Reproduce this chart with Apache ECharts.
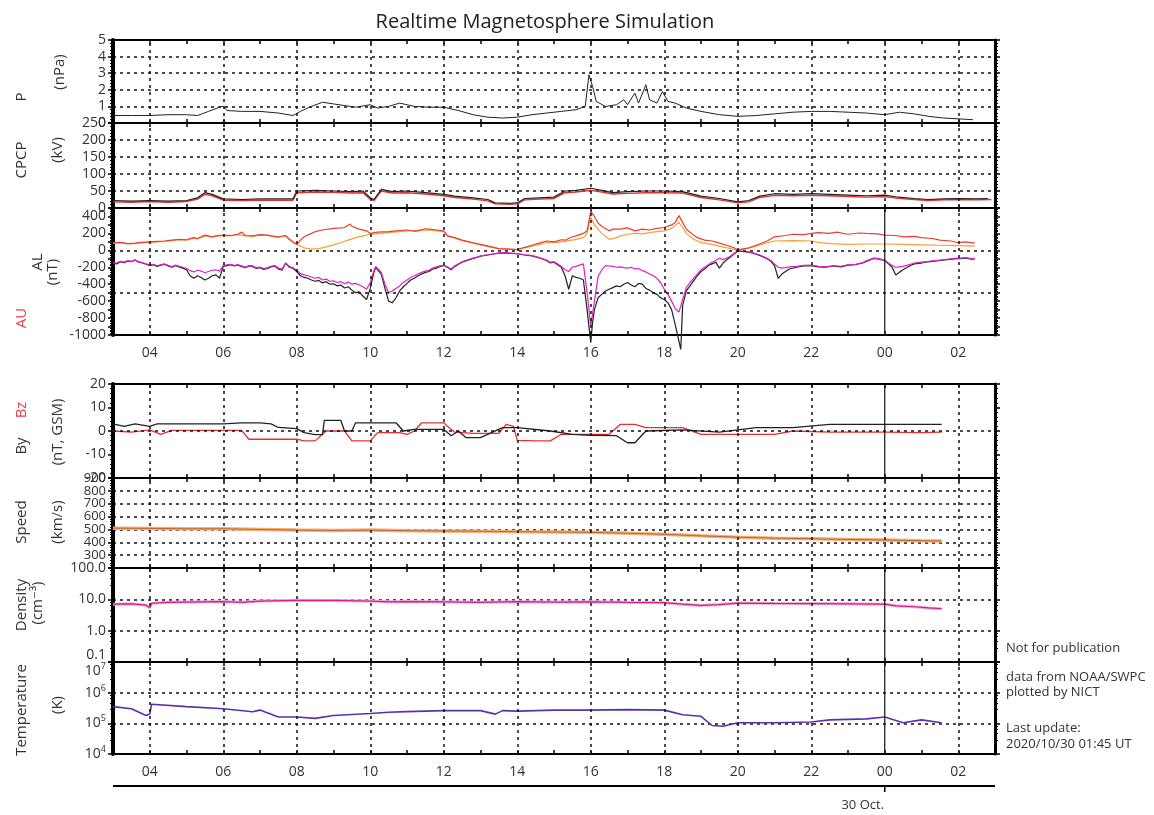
<!DOCTYPE html>
<html><head><meta charset="utf-8">
<script src="https://cdn.jsdelivr.net/npm/echarts@6.0.0/dist/echarts.min.js"></script>
<style>html,body{margin:0;padding:0;background:#fff}#c{width:1154px;height:815px}</style>
</head><body><div id="c"></div><script>
// ---------- DATA (hours since 00 UT Oct 29; 24 = 00 UT Oct 30) ----------
const GRID_HOURS = [4,6,8,10,12,14,16,18,20,22,24,26];
const DAY_HOUR = 24;

const P_DATA = [[3.0,0.45],[3.5,0.45],[4.0,0.45],[4.5,0.5],[5.0,0.5],[5.3,0.45],[5.6,0.7],[5.9,0.95],[6.0,1.0],[6.1,0.75],[6.5,0.7],[7.0,0.7],[7.5,0.6],[7.9,0.45],[8.1,0.7],[8.4,1.0],[8.7,1.25],[9.0,1.15],[9.3,1.05],[9.6,0.95],[10.0,1.1],[10.2,0.9],[10.5,1.0],[10.8,1.2],[11.2,1.0],[11.6,0.95],[12.0,0.95],[12.4,0.75],[12.8,0.5],[13.2,0.35],[13.6,0.3],[14.0,0.35],[14.4,0.5],[14.8,0.6],[15.2,0.7],[15.6,0.8],[15.85,1.0],[15.95,2.9],[16.05,2.2],[16.15,1.3],[16.4,1.0],[16.7,1.1],[16.9,1.4],[17.0,1.1],[17.2,1.8],[17.3,1.2],[17.5,2.3],[17.6,1.4],[17.8,1.2],[17.95,1.9],[18.1,1.3],[18.3,1.2],[18.6,0.9],[19.0,0.7],[19.5,0.5],[20.0,0.4],[20.5,0.45],[21.0,0.55],[21.5,0.65],[22.0,0.7],[22.5,0.7],[23.0,0.65],[23.5,0.6],[24.0,0.5],[24.4,0.65],[24.8,0.55],[25.2,0.4],[25.6,0.3],[26.0,0.25],[26.4,0.2]];

const CPCP_BLACK = [[3.0,22],[3.5,20],[4.0,22],[4.5,20],[5.0,22],[5.3,30],[5.5,45],[5.7,40],[6.0,27],[6.5,25],[7.0,27],[7.5,27],[7.9,27],[8.0,50],[8.5,52],[9.0,50],[9.5,48],[9.8,50],[10.0,30],[10.1,25],[10.3,55],[10.6,48],[11.0,50],[11.5,45],[12.0,40],[12.3,35],[12.8,30],[13.2,25],[13.4,15],[13.8,14],[14.0,15],[14.2,28],[14.6,30],[15.0,32],[15.3,50],[15.6,52],[16.0,58],[16.3,52],[16.6,45],[17.0,48],[17.5,50],[18.0,50],[18.5,48],[19.0,35],[19.5,28],[20.0,18],[20.3,22],[20.6,35],[21.0,42],[21.5,40],[22.0,42],[22.5,40],[23.0,38],[23.5,36],[24.0,38],[24.3,33],[24.8,28],[25.2,25],[25.6,27],[26.0,28],[26.5,27],[26.8,28]];
const CPCP_RED = [[3.0,18],[3.5,17],[4.0,19],[4.5,17],[5.0,19],[5.3,26],[5.5,40],[5.7,36],[6.0,23],[6.5,22],[7.0,23],[7.5,23],[7.9,23],[8.0,45],[8.5,47],[9.0,46],[9.5,44],[9.8,45],[10.0,26],[10.1,22],[10.3,50],[10.6,44],[11.0,45],[11.5,41],[12.0,36],[12.3,31],[12.8,26],[13.2,21],[13.4,12],[13.8,11],[14.0,12],[14.2,24],[14.6,26],[15.0,28],[15.3,45],[15.6,47],[16.0,52],[16.3,47],[16.6,41],[17.0,43],[17.5,45],[18.0,45],[18.5,44],[19.0,31],[19.5,24],[20.0,15],[20.3,18],[20.6,31],[21.0,37],[21.5,36],[22.0,37],[22.5,36],[23.0,34],[23.5,32],[24.0,34],[24.3,29],[24.8,25],[25.2,22],[25.6,24],[26.0,25],[26.5,24],[26.9,25]];

const AU_RED = [[3.0,90],[3.2,95],[3.4,80],[3.6,85],[3.8,95],[4.0,100],[4.2,105],[4.4,110],[4.6,120],[4.8,130],[5.0,125],[5.2,150],[5.3,140],[5.5,180],[5.7,160],[5.8,170],[6.0,180],[6.2,175],[6.4,190],[6.5,215],[6.6,175],[6.8,170],[7.0,185],[7.2,180],[7.4,165],[7.5,160],[7.7,175],[7.8,130],[8.0,70],[8.1,120],[8.2,160],[8.4,200],[8.5,220],[8.7,240],[9.0,260],[9.2,265],[9.3,270],[9.45,310],[9.5,285],[9.7,250],[9.9,230],[10.0,200],[10.2,215],[10.5,220],[10.7,230],[11.0,240],[11.2,225],[11.3,230],[11.5,255],[11.6,250],[11.8,240],[12.0,230],[12.1,170],[12.3,150],[12.5,120],[12.8,90],[13.0,70],[13.3,40],[13.5,20],[13.8,15],[14.0,10],[14.2,35],[14.4,60],[14.6,85],[14.8,110],[15.0,100],[15.2,125],[15.3,120],[15.5,160],[15.6,170],[15.8,200],[15.9,230],[16.0,460],[16.1,400],[16.2,320],[16.35,270],[16.5,230],[16.6,250],[16.8,250],[17.0,265],[17.2,230],[17.4,250],[17.6,240],[17.8,260],[18.0,270],[18.2,300],[18.3,330],[18.4,410],[18.5,330],[18.6,250],[18.8,180],[18.9,150],[19.1,120],[19.3,110],[19.5,85],[19.7,60],[19.9,30],[20.0,5],[20.3,30],[20.5,60],[20.8,110],[21.0,160],[21.3,175],[21.5,190],[21.8,185],[22.0,200],[22.2,210],[22.5,200],[22.7,215],[23.0,190],[23.3,205],[23.5,200],[23.8,195],[24.0,180],[24.3,175],[24.5,160],[24.8,165],[25.0,150],[25.3,140],[25.5,120],[25.8,110],[26.0,90],[26.2,100],[26.45,85]];
const AU_ORANGE = [[3.0,85],[3.2,90],[3.4,75],[3.6,80],[3.8,90],[4.0,95],[4.2,100],[4.4,105],[4.6,115],[4.8,125],[5.0,120],[5.2,145],[5.3,135],[5.5,170],[5.7,155],[5.8,165],[6.0,175],[6.2,170],[6.4,185],[6.6,170],[6.8,165],[7.0,180],[7.2,175],[7.4,160],[7.5,155],[7.7,170],[7.8,125],[8.0,70],[8.2,30],[8.4,15],[8.6,20],[8.8,40],[9.0,65],[9.2,90],[9.4,120],[9.6,150],[9.8,170],[10.0,190],[10.3,200],[10.5,210],[10.8,220],[11.0,230],[11.3,235],[11.6,240],[11.8,230],[12.0,220],[12.1,170],[12.3,145],[12.5,115],[12.8,85],[13.0,65],[13.3,35],[13.5,18],[13.8,12],[14.0,8],[14.2,30],[14.4,50],[14.6,70],[14.8,90],[15.0,90],[15.3,105],[15.6,130],[15.8,150],[15.9,200],[16.0,390],[16.1,300],[16.3,200],[16.5,130],[16.7,150],[16.8,170],[17.0,190],[17.2,200],[17.4,195],[17.6,210],[17.8,220],[18.0,230],[18.2,260],[18.4,330],[18.5,270],[18.6,200],[18.8,130],[19.0,90],[19.3,70],[19.5,50],[19.8,20],[20.0,0],[20.3,25],[20.5,50],[20.8,90],[21.0,110],[21.5,115],[22.0,110],[22.2,95],[22.5,80],[23.0,70],[23.5,75],[24.0,75],[24.5,70],[25.0,65],[25.5,60],[26.0,55],[26.45,50]];

const AL_BLACK = [[3.0,-150],[3.1,-160],[3.2,-135],[3.3,-145],[3.4,-125],[3.5,-135],[3.6,-115],[3.7,-140],[3.8,-150],[3.9,-165],[4.0,-180],[4.1,-170],[4.2,-190],[4.3,-175],[4.4,-165],[4.5,-185],[4.6,-200],[4.7,-180],[4.8,-195],[4.9,-210],[5.0,-230],[5.1,-300],[5.2,-330],[5.3,-300],[5.4,-320],[5.5,-350],[5.6,-330],[5.7,-300],[5.8,-290],[5.9,-330],[6.0,-190],[6.1,-180],[6.2,-170],[6.3,-185],[6.4,-175],[6.5,-190],[6.6,-205],[6.7,-185],[6.8,-190],[6.9,-215],[7.0,-205],[7.1,-225],[7.2,-215],[7.3,-195],[7.4,-185],[7.5,-220],[7.6,-235],[7.7,-150],[7.8,-200],[7.9,-215],[8.0,-250],[8.1,-300],[8.2,-320],[8.3,-330],[8.4,-350],[8.5,-365],[8.6,-355],[8.7,-385],[8.8,-370],[8.9,-400],[9.0,-395],[9.1,-420],[9.2,-410],[9.3,-445],[9.4,-430],[9.5,-470],[9.6,-500],[9.7,-490],[9.8,-540],[9.9,-580],[10.0,-450],[10.1,-260],[10.15,-200],[10.2,-230],[10.3,-280],[10.4,-450],[10.5,-600],[10.6,-620],[10.7,-560],[10.8,-480],[10.9,-430],[11.0,-390],[11.1,-350],[11.2,-330],[11.3,-300],[11.4,-280],[11.5,-260],[11.6,-250],[11.7,-220],[11.8,-210],[11.9,-190],[12.0,-180],[12.1,-200],[12.2,-230],[12.3,-190],[12.4,-165],[12.5,-140],[12.6,-125],[12.7,-110],[12.8,-95],[12.9,-85],[13.0,-70],[13.2,-55],[13.4,-40],[13.6,-30],[13.8,-35],[14.0,-40],[14.2,-55],[14.4,-65],[14.6,-90],[14.8,-120],[14.9,-150],[15.0,-140],[15.1,-170],[15.2,-200],[15.3,-300],[15.4,-460],[15.5,-300],[15.6,-320],[15.7,-330],[15.8,-350],[15.9,-700],[16.0,-1090],[16.05,-850],[16.1,-700],[16.2,-560],[16.3,-520],[16.4,-480],[16.5,-460],[16.6,-440],[16.7,-420],[16.8,-430],[16.9,-400],[17.0,-380],[17.1,-410],[17.2,-430],[17.3,-390],[17.4,-400],[17.5,-450],[17.6,-470],[17.7,-500],[17.8,-520],[17.9,-560],[18.0,-580],[18.1,-620],[18.2,-700],[18.3,-880],[18.45,-1170],[18.5,-650],[18.6,-480],[18.7,-420],[18.8,-360],[18.9,-300],[19.0,-250],[19.1,-220],[19.2,-180],[19.3,-160],[19.4,-140],[19.5,-210],[19.6,-150],[19.7,-110],[19.8,-80],[19.9,-40],[20.0,-10],[20.2,-15],[20.4,-30],[20.6,-60],[20.8,-100],[20.9,-130],[21.0,-180],[21.1,-330],[21.2,-280],[21.3,-250],[21.4,-220],[21.6,-200],[21.8,-185],[22.0,-180],[22.2,-195],[22.4,-200],[22.6,-185],[22.8,-195],[23.0,-175],[23.2,-170],[23.4,-150],[23.5,-130],[23.7,-95],[23.8,-100],[24.0,-120],[24.1,-160],[24.2,-200],[24.3,-290],[24.4,-260],[24.5,-230],[24.7,-180],[24.8,-160],[25.0,-150],[25.1,-140],[25.3,-130],[25.5,-120],[25.7,-110],[25.9,-100],[26.1,-95],[26.2,-90],[26.35,-105],[26.45,-100]];
const AL_MAGENTA = [[3.0,-145],[3.1,-150],[3.2,-130],[3.3,-140],[3.4,-120],[3.5,-130],[3.6,-112],[3.7,-135],[3.8,-145],[3.9,-160],[4.0,-172],[4.1,-165],[4.2,-182],[4.3,-170],[4.4,-160],[4.5,-178],[4.6,-192],[4.7,-175],[4.8,-188],[4.9,-200],[5.0,-215],[5.1,-240],[5.2,-255],[5.3,-235],[5.4,-245],[5.5,-265],[5.6,-250],[5.7,-235],[5.8,-230],[5.9,-245],[6.0,-180],[6.1,-172],[6.2,-165],[6.3,-178],[6.4,-170],[6.5,-183],[6.6,-198],[6.7,-180],[6.8,-184],[6.9,-205],[7.0,-198],[7.1,-215],[7.2,-205],[7.3,-188],[7.4,-180],[7.5,-210],[7.6,-222],[7.7,-150],[7.8,-192],[7.9,-205],[8.0,-235],[8.1,-275],[8.2,-290],[8.3,-300],[8.4,-315],[8.5,-330],[8.6,-320],[8.7,-350],[8.8,-340],[8.9,-365],[9.0,-360],[9.1,-380],[9.2,-370],[9.3,-395],[9.4,-375],[9.5,-400],[9.6,-390],[9.7,-410],[9.8,-430],[9.9,-460],[10.0,-380],[10.1,-240],[10.15,-190],[10.2,-215],[10.3,-260],[10.4,-400],[10.5,-500],[10.6,-480],[10.7,-450],[10.8,-420],[10.9,-380],[11.0,-350],[11.1,-320],[11.2,-300],[11.3,-280],[11.4,-260],[11.5,-245],[11.6,-235],[11.7,-210],[11.8,-195],[11.9,-182],[12.0,-175],[12.1,-195],[12.2,-220],[12.3,-182],[12.4,-158],[12.5,-135],[12.6,-120],[12.7,-105],[12.8,-92],[12.9,-80],[13.0,-65],[13.2,-52],[13.4,-38],[13.6,-28],[13.8,-33],[14.0,-38],[14.2,-52],[14.4,-60],[14.6,-85],[14.8,-115],[14.9,-140],[15.0,-135],[15.1,-160],[15.2,-190],[15.3,-230],[15.4,-250],[15.5,-200],[15.6,-190],[15.7,-175],[15.8,-160],[15.9,-500],[16.0,-900],[16.05,-750],[16.1,-600],[16.2,-310],[16.3,-230],[16.4,-180],[16.5,-185],[16.6,-190],[16.7,-200],[16.8,-195],[16.9,-205],[17.0,-210],[17.1,-200],[17.2,-220],[17.3,-215],[17.4,-240],[17.5,-255],[17.6,-280],[17.7,-300],[17.8,-330],[17.9,-380],[18.0,-460],[18.1,-520],[18.2,-600],[18.3,-690],[18.4,-730],[18.5,-580],[18.6,-440],[18.7,-380],[18.8,-330],[18.9,-280],[19.0,-230],[19.1,-200],[19.2,-170],[19.3,-140],[19.4,-120],[19.5,-90],[19.6,-110],[19.7,-90],[19.8,-70],[19.9,-35],[20.0,-8],[20.2,-14],[20.4,-28],[20.6,-55],[20.8,-95],[20.9,-120],[21.0,-160],[21.1,-200],[21.2,-210],[21.3,-205],[21.4,-195],[21.6,-190],[21.8,-178],[22.0,-175],[22.2,-188],[22.4,-195],[22.6,-180],[22.8,-188],[23.0,-170],[23.2,-165],[23.4,-145],[23.5,-125],[23.7,-92],[23.8,-95],[24.0,-115],[24.1,-150],[24.2,-180],[24.3,-200],[24.4,-195],[24.5,-190],[24.7,-165],[24.8,-150],[25.0,-140],[25.1,-135],[25.3,-125],[25.5,-115],[25.7,-105],[25.9,-95],[26.1,-90],[26.2,-85],[26.35,-98],[26.45,-95]];

const BY_DATA = [[3.0,3],[3.3,2],[3.6,3],[4.0,2],[4.2,3],[5.0,3],[6.0,3],[6.5,3.5],[7.0,3.5],[7.3,3],[7.5,1.5],[8.0,1],[8.2,-0.7],[8.5,-1.5],[8.7,-1.5],[8.75,4.5],[9.2,4.5],[9.3,0],[9.5,0],[9.6,3.5],[10.0,3.5],[10.7,3.5],[10.9,0],[11.2,0.7],[12.0,0.7],[12.2,-2],[12.4,0],[12.6,-2.8],[13.0,-2.8],[13.3,-0.7],[13.6,1.4],[14.0,1.4],[14.9,0],[15.5,-1.4],[16.0,-1.8],[16.7,-2],[17.0,-5],[17.2,-5],[17.5,0],[18.5,0.5],[19.5,-0.5],[20.5,1.4],[21.5,1.4],[22.5,2.8],[24.0,2.8],[25.0,2.8],[25.55,2.8]];
const BZ_DATA = [[3.0,0],[3.5,-0.5],[4.0,0.5],[4.3,-1.4],[4.6,0.3],[6.0,0.3],[6.5,0.3],[6.7,-3.5],[7.5,-3.5],[8.0,-3.5],[8.2,-4.2],[8.5,-4.2],[8.8,0],[9.3,0],[9.5,-4.2],[10.0,-4.2],[10.2,-0.7],[10.8,-0.7],[11.0,-1.4],[11.2,0],[11.4,3.5],[12.0,3.5],[12.1,2],[12.3,-0.5],[12.8,-1],[13.5,-1],[13.7,2.8],[13.9,2],[14.0,-4],[14.5,-4.2],[14.9,-4.2],[15.2,-1.4],[16.0,-1.4],[16.5,-1.4],[16.8,2.8],[17.2,2.8],[17.5,1.4],[18.5,1.4],[19.0,-1.4],[20.0,-1.4],[21.0,-1.4],[21.5,0],[22.5,-0.5],[24.0,-0.5],[25.0,-0.7],[25.55,-0.5]];

const SPEED_DATA = [[3.0,510],[4.0,508],[5.0,505],[6.0,505],[7.0,500],[8.0,495],[9.0,492],[10.0,495],[11.0,490],[12.0,488],[13.0,486],[14.0,482],[15.0,480],[16.0,478],[17.0,470],[18.0,462],[19.0,450],[20.0,440],[21.0,432],[22.0,428],[23.0,422],[24.0,418],[25.0,412],[25.55,410]];

const DENSITY_DATA = [[3.0,7.0],[3.5,7.2],[3.9,6.5],[4.0,5.4],[4.05,7.5],[4.5,8.0],[5.0,8.2],[6.0,8.5],[6.5,8.0],[7.0,8.8],[8.0,9.3],[9.0,9.2],[10.0,8.8],[10.5,8.3],[11.0,8.5],[12.0,8.3],[13.0,8.0],[14.0,8.4],[15.0,8.2],[16.0,8.3],[17.0,8.0],[18.0,7.8],[18.5,7.0],[19.0,6.4],[19.5,6.8],[20.0,7.6],[21.0,7.4],[22.0,7.3],[23.0,7.2],[24.0,7.0],[24.3,6.2],[24.8,5.8],[25.2,5.3],[25.55,5.0]];

const TEMP_DATA = [[3.0,3.5e5],[3.5,3.0e5],[3.9,1.8e5],[4.0,2.0e5],[4.05,4.2e5],[5.0,3.5e5],[6.0,3.0e5],[6.8,2.4e5],[7.0,2.7e5],[7.5,1.6e5],[8.0,1.6e5],[8.5,1.45e5],[9.0,1.8e5],[10.0,2.1e5],[10.5,2.3e5],[11.0,2.4e5],[12.0,2.6e5],[13.0,2.6e5],[13.4,2.0e5],[13.6,2.6e5],[14.0,2.5e5],[15.0,2.7e5],[16.0,2.7e5],[17.0,2.8e5],[18.0,2.7e5],[18.5,1.9e5],[19.0,1.7e5],[19.3,8.5e4],[19.6,8.0e4],[20.0,1.05e5],[21.0,1.05e5],[22.0,1.1e5],[22.5,1.3e5],[23.5,1.4e5],[24.0,1.6e5],[24.5,1.05e5],[25.0,1.3e5],[25.55,1.05e5]];

// ---------- CHART ----------
const FONT = "'Open Sans','DejaVu Sans',sans-serif";
const chart = echarts.init(document.getElementById('c'), null, {renderer:'canvas'});
const GRIDS = [
  {top:40,height:83},{top:123,height:85},{top:208,height:127},
  {top:384,height:94},{top:478,height:90},{top:568,height:94},{top:662,height:92}
];
const SOLID_DAY_PANELS = [2,3,5,6];
const pad = v => { const h = ((v % 24) + 24) % 24; return (h < 10 ? '0' : '') + h; };
const grid = GRIDS.map(g => ({left:113, right:159, top:g.top, height:g.height, containLabel:false, outerBoundsMode:'none'}));

const xAxis = [];
GRIDS.forEach((g,i) => {
  ['bottom','top'].forEach(pos => {
    xAxis.push({
      gridIndex:i, type:'value', min:3, max:27, interval:1, position:pos,
      axisLine:{show:true, onZero:false, lineStyle:{color:'#000', width:2}},
      axisTick:{show:true, inside:true, length:4, lineStyle:{color:'#000', width:1.5}},
      axisLabel:{show: pos==='bottom' && (i===2 || i===6), fontSize:14, color:'#333', margin:11, fontFamily:FONT,
        formatter: v => (v % 2 === 0 ? pad(v) : '')},
      splitLine:{show:false}
    });
  });
});

const dash = {color:'#111', width:1.5, type:[3,4]};
const Y_CFG = [
  {min:0, max:5, interval:1, split:true},
  {min:0, max:250, interval:50, split:true},
  {min:-1000, max:500, interval:100, split:false, fmt: v => (v % 200 === 0 && v !== 500 ? v : '')},
  {min:-20, max:20, interval:10, split:false},
  {min:200, max:900, interval:100, split:true, fs:13, fmt: v => (v === 200 ? '' : v)},
  {type:'log', min:0.1, max:100, split:true, fmt: v => Number(v).toFixed(1), vMin:'bottom'},
  {type:'log', min:1e4, max:1e7, split:true, fmt: v => '{b|10}{s|' + Math.round(Math.log10(v)) + '}', vMax:'top'}
];
const yAxis = [];
Y_CFG.forEach((c,i) => {
  ['left','right'].forEach(pos => {
    const y = {
      gridIndex:i, type:c.type || 'value', min:c.min, max:c.max, position:pos,
      axisLine:{show:true, onZero:false, lineStyle:{color:'#000', width:pos==='left'?4:3}},
      axisTick:{show:true, inside:false, length:5, lineStyle:{color:'#000', width:1.5}},
      minorTick:{show:true, splitNumber:5, length:3, lineStyle:{color:'#000', width:1}},
      axisLabel:{show: pos==='left', showMinLabel:true, showMaxLabel:true, hideOverlap:false,
        fontSize:c.fs || 14, color:'#333', margin:7, fontFamily:FONT,
        rich:{b:{fontSize:14, color:'#333', fontFamily:FONT}, s:{fontSize:9, color:'#333', padding:[0,0,9,0], fontFamily:FONT}}},
      splitLine:{show: pos==='left' && c.split, lineStyle:dash}
    };
    if (c.interval) y.interval = c.interval;
    if (c.type === 'log') y.logBase = 10;
    if (c.fmt) y.axisLabel.formatter = c.fmt;
    if (c.vMin) y.axisLabel.verticalAlignMinLabel = c.vMin;
    if (c.vMax) y.axisLabel.verticalAlignMaxLabel = c.vMax;
    yAxis.push(y);
  });
});

function vlines(i, hvals) {
  const solid = SOLID_DAY_PANELS.includes(i);
  const data = GRID_HOURS.filter(h => !(h === DAY_HOUR && solid)).map(h => ({xAxis:h}));
  (hvals || []).forEach(v => data.push({yAxis:v}));
  return {silent:true, symbol:['none','none'], label:{show:false}, animation:false,
    lineStyle:dash, emphasis:{disabled:true}, data};
}
function line(i, data, color, width, extra) {
  return Object.assign({type:'line', xAxisIndex:2*i, yAxisIndex:2*i, data, showSymbol:false, symbol:'none',
    lineStyle:{color, width}, itemStyle:{color}, silent:true, animation:false}, extra || {});
}

const series = [
  line(0, P_DATA, '#222', 1, {markLine: vlines(0)}),
  line(1, CPCP_RED, '#e03030', 1.4, {markLine: vlines(1)}),
  line(1, CPCP_BLACK, '#222', 1.2),
  line(2, AU_ORANGE, '#f7a035', 1.2, {markLine: vlines(2,[0,-500])}),
  line(2, AU_RED, '#e84030', 1.2),
  line(2, AL_BLACK, '#222', 1.2, {clip:false}),
  line(2, AL_MAGENTA, '#e020c8', 1.2),
  line(3, BZ_DATA, '#e83030', 1.3, {markLine: vlines(3,[0])}),
  line(3, BY_DATA, '#222', 1.3),
  line(4, SPEED_DATA, '#f3b070', 3.5, {markLine: vlines(4)}),
  line(4, SPEED_DATA, '#b0502a', 0.8),
  line(5, DENSITY_DATA, '#f2a8d8', 3, {markLine: vlines(5)}),
  line(5, DENSITY_DATA, '#d0208a', 1.2),
  line(6, TEMP_DATA, '#5a30b0', 1.6, {markLine: vlines(6)})
];

const T = (text, x, y, opt) => Object.assign({type:'text', x, y, silent:true,
  style:Object.assign({text, fill:'#333', font:'14px ' + FONT, align:'center', verticalAlign:'middle'}, (opt && opt.style) || {})},
  (opt && opt.rot) ? {rotation:Math.PI/2} : {});
const R = (text, x, y, color) => T(text, x, y, {rot:true, style:color ? {fill:color, font:'15px ' + FONT} : {font:'15px ' + FONT}});
const SIDE = {align:'left', font:'13px ' + FONT, fill:'#333'};

const graphic = [
  T('Realtime Magnetosphere Simulation', 545, 22, {style:{font:'20px ' + FONT, fill:'#222'}}),
  R('P', 22, 97), R('(nPa)', 60, 72),
  R('CPCP', 22, 160), R('(kV)', 58, 150),
  R('AU', 22, 318, '#e84040'), R('AL', 38, 262), R('(nT)', 53, 272),
  R('Bz', 22, 410, '#e84040'), R('By', 22, 446), R('(nT, GSM)', 58, 432),
  R('Speed', 22, 522), R('(km/s)', 58, 522),
  R('Density', 22, 605), R('(cm⁻³)', 38, 603),
  R('Temperature', 22, 710), R('(K)', 58, 705),
  T('Not for publication', 1006, 648, {style:SIDE}),
  T('data from NOAA/SWPC', 1006, 677, {style:SIDE}),
  T('plotted by NICT', 1006, 692, {style:SIDE}),
  T('Last update:', 1006, 728, {style:SIDE}),
  T('2020/10/30 01:45 UT', 1006, 744, {style:SIDE})
];

chart.setOption({
  animation:false, backgroundColor:'#fff', textStyle:{fontFamily:FONT},
  grid, xAxis, yAxis, series, graphic
});

// day-boundary lines and the date line, placed through the axis scale
const x0 = chart.convertToPixel({xAxisIndex:12}, 3);
const x1 = chart.convertToPixel({xAxisIndex:12}, 27);
const x24 = chart.convertToPixel({xAxisIndex:12}, DAY_HOUR);
SOLID_DAY_PANELS.forEach(i => {
  graphic.push({type:'line', silent:true, z:5,
    shape:{x1:x24, y1:GRIDS[i].top, x2:x24, y2:GRIDS[i].top + GRIDS[i].height},
    style:{stroke:'#111', lineWidth:1.2}});
});
graphic.push(
  {type:'line', silent:true, shape:{x1:x0, y1:786, x2:x1, y2:786}, style:{stroke:'#000', lineWidth:2}},
  {type:'line', silent:true, shape:{x1:x24, y1:786, x2:x24, y2:792}, style:{stroke:'#000', lineWidth:1.5}},
  T('30 Oct.', x24 - 22, 805, {style:{font:'13px ' + FONT}})
);
chart.setOption({graphic});
</script></body></html>
